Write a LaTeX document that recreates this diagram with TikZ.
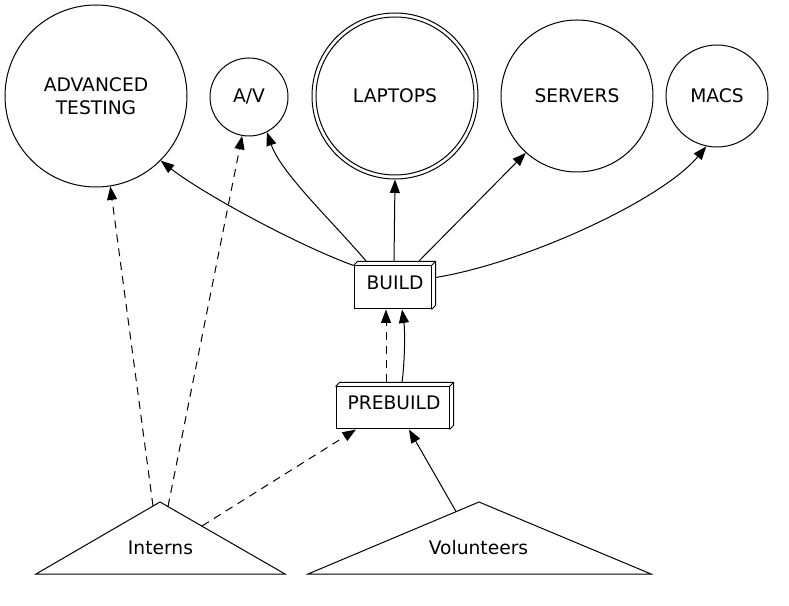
\documentclass[tikz,border=0pt]{standalone}
\usepackage{fontspec}
\setmainfont{DejaVu Sans}
\usetikzlibrary{arrows.meta,calc}
\begin{document}
\begin{tikzpicture}[x=1pt,y=1pt,
  every node/.style={font=\fontsize{18.67}{23}\selectfont},
  lw/.style={line width=1pt},
  circ/.style={lw,draw,circle,inner sep=0pt,align=center},
  boxf/.style={lw,draw,rectangle,inner sep=0pt},
  lbl/.style={inner sep=0pt},
  edge/.style={lw,-{Triangle[length=13.5pt,width=10pt]}},
  dedge/.style={edge,dash pattern=on 8pt off 6pt}]
\useasboundingbox (0,0) rectangle (789,605);
% top row
\node[circ,minimum size=182pt] (adv) at (96,509) {ADVANCED\\TESTING};
\node[circ,minimum size=78pt] (av) at (249,508) {A/V};
\node[circ,minimum size=166pt] (lapo) at (395,509) {};
\node[circ,minimum size=158pt] (lap) at (395,509) {LAPTOPS};
\node[circ,minimum size=152pt] (srv) at (577,509) {SERVERS};
\node[circ,minimum size=102pt] (macs) at (717,509) {MACS};
% BUILD box3d
\node[boxf,minimum width=77pt,minimum height=43pt] (build) at (392.5,317.5) {};
\draw[lw] (build.north west) -- ++(4,4) -- ([shift={(4,4)}]build.north east) -- ([shift={(4,4)}]build.south east) -- (build.south east);
\draw[lw] (build.north east) -- ++(4,4);
\node[lbl] (buildlbl) at (395,322) {BUILD};
% PREBUILD box3d
\node[boxf,minimum width=113pt,minimum height=42pt] (pre) at (392.5,197) {};
\draw[lw] (pre.north west) -- ++(4,4) -- ([shift={(4,4)}]pre.north east) -- ([shift={(4,4)}]pre.south east) -- (pre.south east);
\draw[lw] (pre.north east) -- ++(4,4);
\node[lbl] (prelbl) at (394,202) {PREBUILD};
% triangles
\coordinate (ia) at (160,103);
\coordinate (il) at (36,31);
\coordinate (ir) at (285,31);
\draw[lw] (ia) -- (il) -- (ir) -- cycle;
\node[lbl] (interns) at (160.5,57) {Interns};
\coordinate (va) at (479,103);
\coordinate (vl) at (308,31);
\coordinate (vr) at (651,31);
\draw[lw] (va) -- (vl) -- (vr) -- cycle;
\node[lbl] (vol) at (478.5,57) {Volunteers};
% edge end points on triangles
\coordinate (i1) at (153,99);
\coordinate (i2) at (168,98.5);
\coordinate (i3) at (202,79);
\coordinate (v1) at (456,93.5);
% edges from BUILD
\draw[edge] (build.north west) .. controls (295,361) and (202,412) .. (adv.-45);
\draw[edge] ([shift={(13,4)}]build.north west) .. controls (332,384) and (281,432) .. (av.-63);
\draw[edge] ([shift={(40.5,4)}]build.north west) -- (lapo.south);
\draw[edge] ([shift={(65,4)}]build.north west) -- (srv.-132);
\draw[edge] ([shift={(4,10)}]build.east) .. controls (525,342) and (662,405) .. (macs.-102);
% PREBUILD to BUILD
\draw[dedge] ([shift={(-6.5,4)}]pre.north) -- ([xshift=-6.5pt]build.south);
\draw[edge] ([shift={(9.5,4)}]pre.north) .. controls (405,245) and (405,275) .. ([xshift=9.5pt]build.south);
% from Interns / Volunteers
\draw[dedge] (i1) -- (adv.-81);
\draw[dedge] (i2) -- (av.-100);
\draw[dedge] (i3) -- ([xshift=-36.5pt]pre.south);
\draw[edge] (v1) -- ([xshift=16.5pt]pre.south);
\end{tikzpicture}
\end{document}
